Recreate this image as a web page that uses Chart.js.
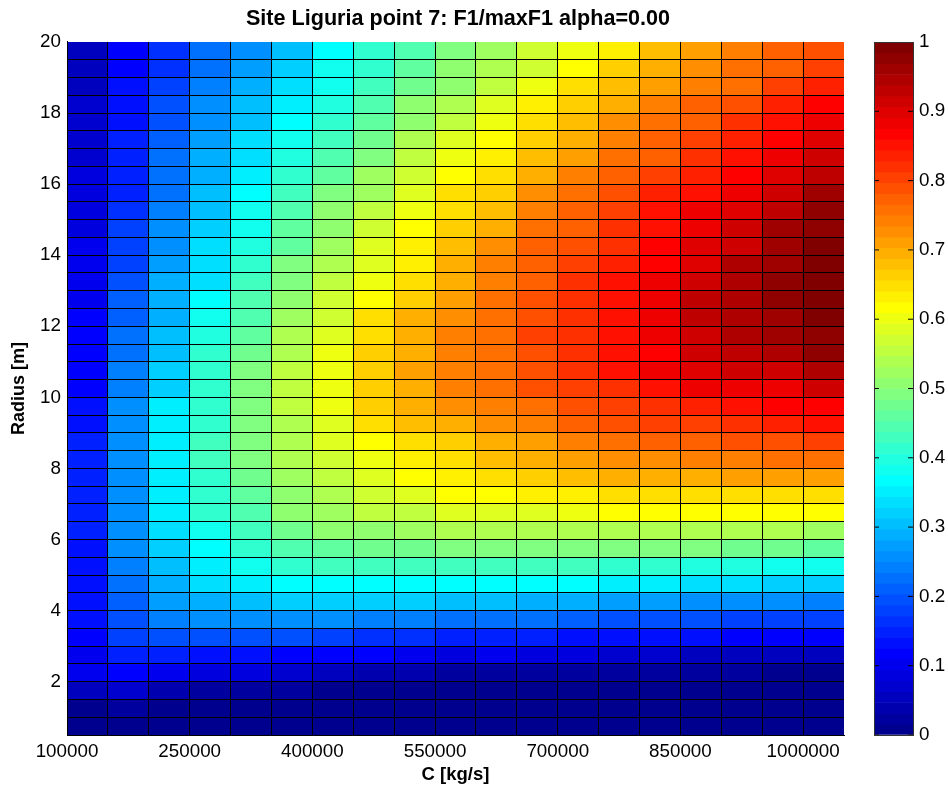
<!DOCTYPE html>
<html>
<head>
<meta charset="utf-8">
<script src="https://cdn.jsdelivr.net/npm/chart.js@4/dist/chart.umd.min.js"></script>
<style>
  html, body { margin: 0; padding: 0; background: #fff; overflow: hidden; }
  canvas { position: absolute; top: 0; }
  #heatChart { left: 0; }
  #barChart { left: 860px; }
</style>
</head>
<body>
<canvas id="heatChart" width="916" height="791"></canvas>
<canvas id="barChart" width="88" height="791"></canvas>
<script>
// lower edge of each cell column
const cValues = [100000, 150000, 200000, 250000, 300000, 350000, 400000, 450000, 500000, 550000,
    600000, 650000, 700000, 750000, 800000, 850000, 900000, 950000, 1000000];
// upper edge of each cell row, top to bottom
const radiusValues = [20, 19.5, 19, 18.5, 18, 17.5, 17, 16.5, 16, 15.5, 15, 14.5, 14, 13.5, 13, 12.5, 12, 11.5, 11, 10.5,
    10, 9.5, 9, 8.5, 8, 7.5, 7, 6.5, 6, 5.5, 5, 4.5, 4, 3.5, 3, 2.5, 2, 1.5, 1];
const cTickLabels = [100000, 250000, 400000, 550000, 700000, 850000, 1000000];
const radiusTickLabels = [2, 4, 6, 8, 10, 12, 14, 16, 18, 20];
const colorbarTicks = [0, 0.1, 0.2, 0.3, 0.4, 0.5, 0.6, 0.7, 0.8, 0.9, 1];

// F1/maxF1, one row per radius (same order as radiusValues)
const f1Ratio = [
    [.05, .115, .16, .225, .26, .31, .365, .41, .44, .49, .525, .565, .60, .64, .68, .71, .74, .77, .785],
    [.05, .115, .17, .225, .28, .325, .385, .42, .46, .50, .545, .57, .615, .665, .70, .72, .75, .78, .81],
    [.06, .125, .175, .235, .285, .34, .39, .43, .475, .515, .56, .595, .645, .68, .71, .735, .765, .80, .83],
    [.07, .135, .19, .255, .30, .35, .405, .45, .50, .535, .585, .635, .665, .70, .74, .77, .795, .83, .865],
    [.07, .135, .195, .26, .305, .36, .41, .46, .51, .55, .60, .65, .68, .72, .75, .78, .82, .85, .88],
    [.07, .15, .215, .27, .33, .385, .43, .48, .54, .585, .615, .665, .70, .74, .77, .80, .835, .87, .90],
    [.07, .15, .22, .285, .34, .40, .44, .49, .555, .60, .64, .685, .715, .75, .78, .815, .85, .885, .92],
    [.09, .145, .225, .29, .355, .41, .465, .52, .57, .615, .65, .70, .74, .77, .80, .84, .87, .90, .935],
    [.09, .155, .23, .30, .365, .43, .485, .53, .585, .645, .67, .72, .755, .785, .83, .855, .885, .92, .955],
    [.09, .165, .24, .305, .39, .45, .505, .555, .60, .655, .685, .735, .775, .805, .845, .875, .905, .935, .97],
    [.09, .175, .26, .32, .39, .455, .515, .565, .615, .665, .70, .75, .775, .815, .85, .88, .92, .955, .975],
    [.105, .175, .265, .33, .395, .465, .525, .58, .635, .685, .72, .77, .79, .825, .87, .90, .92, .955, 1],
    [.105, .185, .27, .34, .41, .485, .54, .59, .64, .695, .735, .78, .805, .84, .87, .905, .94, .96, 1],
    [.105, .19, .285, .34, .425, .49, .555, .605, .655, .69, .74, .77, .815, .855, .885, .92, .945, .97, .995],
    [.105, .21, .285, .365, .445, .505, .565, .615, .665, .71, .755, .785, .815, .855, .89, .925, .95, .97, .99],
    [.115, .215, .295, .38, .45, .525, .575, .645, .69, .73, .755, .79, .82, .855, .885, .935, .95, .965, .99],
    [.115, .22, .31, .40, .46, .535, .585, .645, .69, .735, .755, .805, .82, .855, .885, .92, .95, .955, .975],
    [.12, .225, .31, .41, .48, .545, .60, .66, .70, .735, .76, .79, .825, .855, .87, .92, .935, .95, .97],
    [.12, .24, .325, .42, .49, .555, .60, .66, .705, .735, .76, .79, .82, .845, .875, .90, .92, .92, .95],
    [.12, .24, .325, .42, .49, .555, .60, .66, .70, .735, .76, .785, .805, .825, .855, .875, .885, .89, .92],
    [.125, .255, .35, .42, .49, .555, .60, .66, .695, .725, .745, .765, .785, .805, .815, .83, .855, .87, .87],
    [.135, .255, .355, .42, .49, .54, .59, .645, .68, .70, .725, .745, .77, .785, .80, .81, .825, .84, .845],
    [.145, .255, .355, .43, .49, .54, .58, .62, .645, .665, .695, .715, .735, .755, .77, .775, .785, .79, .805],
    [.15, .255, .355, .425, .485, .54, .57, .60, .635, .655, .68, .695, .71, .725, .73, .735, .745, .76, .76],
    [.15, .255, .35, .415, .475, .53, .56, .59, .62, .64, .655, .665, .68, .69, .695, .70, .71, .71, .715],
    [.15, .26, .355, .42, .465, .515, .54, .57, .59, .61, .62, .64, .64, .655, .65, .655, .655, .655, .655],
    [.15, .26, .355, .41, .45, .50, .53, .55, .56, .58, .58, .59, .60, .61, .61, .615, .615, .615, .61],
    [.15, .255, .34, .385, .435, .48, .50, .515, .525, .535, .54, .54, .54, .54, .54, .54, .54, .54, .53],
    [.14, .25, .325, .365, .415, .45, .465, .47, .48, .485, .49, .49, .49, .49, .485, .485, .48, .475, .465],
    [.135, .245, .31, .355, .39, .415, .425, .43, .43, .43, .43, .43, .425, .415, .41, .405, .40, .39, .385],
    [.135, .23, .29, .33, .355, .365, .37, .37, .37, .37, .37, .37, .365, .355, .35, .34, .335, .32, .315],
    [.135, .215, .27, .295, .31, .32, .32, .32, .315, .305, .30, .295, .285, .28, .27, .265, .26, .25, .24],
    [.125, .19, .24, .255, .26, .255, .255, .245, .24, .23, .225, .22, .21, .20, .195, .19, .185, .18, .175],
    [.12, .175, .20, .20, .20, .19, .18, .17, .16, .15, .15, .145, .14, .13, .125, .125, .12, .12, .115],
    [.105, .145, .145, .14, .135, .12, .11, .115, .10, .09, .10, .09, .08, .07, .065, .06, .06, .06, .05],
    [.095, .12, .105, .09, .08, .07, .055, .045, .035, .03, .03, .03, .025, .025, .02, .02, .02, .015, .015],
    [.06, .07, .045, .03, .03, .025, .015, .015, .01, .01, .01, .01, .01, .005, .005, .005, .005, .005, .005],
    [.015, .02, .015, .01, .01, .01, .005, .005, .005, .005, .005, .005, .005, .005, .005, .005, .005, 0, 0],
    [.005, .005, .005, 0, 0, 0, 0, 0, 0, 0, 0, 0, 0, 0, 0, 0, 0, 0, 0]
];

const FONT = '"Liberation Sans", Arial, sans-serif';
const CELL_W = 50000, CELL_H = 0.5;

// MATLAB jet with 64 levels
function jet(v) {
    const k = Math.min(64, Math.floor(v * 64) + 1);
    const clamp = x => Math.round(255 * Math.max(0, Math.min(1, x)));
    const x = k / 64;
    const r = clamp(Math.min(4 * x - 1.5, -4 * x + 4.5));
    const g = clamp(Math.min(4 * x - 0.5, -4 * x + 3.5));
    const b = clamp(Math.min(4 * x + 0.5, -4 * x + 2.5));
    return `rgb(${r},${g},${b})`;
}

const heatDatasets = radiusValues.map((radius, i) => ({
    data: cValues.map(c => ({ x: c + CELL_W / 2, y: [radius - CELL_H, radius] })),
    backgroundColor: f1Ratio[i].map(jet),
    borderWidth: 0
}));

new Chart(document.getElementById('heatChart'), {
    type: 'bar',
    data: { datasets: heatDatasets },
    options: {
        responsive: false,
        animation: false,
        grouped: false,
        barPercentage: 1,
        categoryPercentage: 1,
        plugins: {
            legend: { display: false },
            tooltip: { enabled: false },
            title: {
                display: true,
                text: 'Site Liguria point 7: F1/maxF1 alpha=0.00',
                color: '#000',
                font: { family: FONT, size: 21.6, weight: 'bold', lineHeight: 1.2 },
                padding: { top: 6, bottom: 10 }
            }
        },
        scales: {
            x: {
                type: 'linear',
                offset: false,
                min: 100000,
                max: 1050000,
                afterFit: scale => { scale.height = 56; },
                border: { color: '#000', z: 1 },
                grid: {
                    z: 1,
                    offset: false,
                    drawTicks: false,
                    lineWidth: 1,
                    color: ctx => ctx.tick && ctx.tick.value === 1050000 ? 'rgba(0,0,0,0)' : '#000'
                },
                ticks: {
                    stepSize: CELL_W,
                    autoSkip: false,
                    maxRotation: 0,
                    padding: 6,
                    color: '#000',
                    font: { family: FONT, size: 18.8 },
                    callback: v => cTickLabels.includes(v) ? String(v) : ''
                },
                title: {
                    display: true,
                    text: 'C [kg/s]',
                    color: '#000',
                    font: { family: FONT, size: 18.5, weight: 'bold', lineHeight: 1.2 },
                    padding: { top: 0, bottom: 5 }
                }
            },
            y: {
                type: 'linear',
                min: 0.5,
                max: 20,
                afterFit: scale => { scale.width = 67; },
                border: { color: '#000', z: 1 },
                grid: {
                    z: 1,
                    drawTicks: false,
                    lineWidth: 1,
                    color: ctx => ctx.tick && ctx.tick.value === 20 ? 'rgba(0,0,0,0)' : '#000'
                },
                ticks: {
                    stepSize: CELL_H,
                    autoSkip: false,
                    padding: 6,
                    color: '#000',
                    font: { family: FONT, size: 18.8 },
                    callback: v => radiusTickLabels.includes(v) ? String(v) : ''
                },
                title: {
                    display: true,
                    text: 'Radius [m]',
                    color: '#000',
                    font: { family: FONT, size: 18, weight: 'bold', lineHeight: 1.2 },
                    padding: { top: 8, bottom: 0 }
                }
            },
            // empty axis: reserves the colorbar's room so the title still centres on the full width
            spacer: {
                type: 'linear',
                axis: 'y',
                position: 'right',
                afterFit: scale => { scale.width = 72; },
                border: { display: false },
                grid: { display: false },
                ticks: { display: false }
            }
        }
    }
});

// colorbar: one bar per colormap level
const levels = Array.from({ length: 64 }, (_, i) => i / 64);

new Chart(document.getElementById('barChart'), {
    type: 'bar',
    data: {
        datasets: [
            {
                data: levels.map(l => ({ x: 0.5, y: [l, l + 1 / 64] })),
                backgroundColor: levels.map(jet),
                borderWidth: 0,
                order: 2
            },
            // short inside tick marks on both edges of the bar
            {
                type: 'scatter',
                data: colorbarTicks.map(t => ({ x: 0, y: t })),
                pointStyle: 'line',
                pointRadius: 5,
                pointBorderColor: '#000',
                pointBorderWidth: 1,
                order: 1
            },
            {
                type: 'scatter',
                data: colorbarTicks.map(t => ({ x: 1, y: t })),
                pointStyle: 'line',
                pointRadius: 5,
                pointBorderColor: '#000',
                pointBorderWidth: 1,
                order: 1
            }
        ]
    },
    options: {
        responsive: false,
        animation: false,
        grouped: false,
        barPercentage: 1,
        categoryPercentage: 1,
        layout: { padding: { left: 14, top: 42, bottom: 56 } },
        plugins: { legend: { display: false }, tooltip: { enabled: false }, title: { display: false } },
        scales: {
            x: {
                type: 'linear',
                offset: false,
                min: 0,
                max: 1,
                border: { color: '#333', z: 1 },
                grid: { z: 1, offset: false, drawTicks: false, color: '#333' },
                ticks: { display: false, stepSize: 1 }
            },
            y: {
                type: 'linear',
                position: 'right',
                min: 0,
                max: 1,
                afterFit: scale => { scale.width = 35; },
                border: { color: '#333', z: 1 },
                grid: {
                    z: 1,
                    drawTicks: false,
                    color: ctx => ctx.tick && (ctx.tick.value === 0 || ctx.tick.value === 1) ? '#333' : 'rgba(0,0,0,0)'
                },
                ticks: {
                    stepSize: 0.1,
                    autoSkip: false,
                    padding: 6,
                    color: '#000',
                    font: { family: FONT, size: 18.8 },
                    callback: v => String(Math.round(v * 10) / 10)
                }
            }
        }
    }
});
</script>
</body>
</html>
